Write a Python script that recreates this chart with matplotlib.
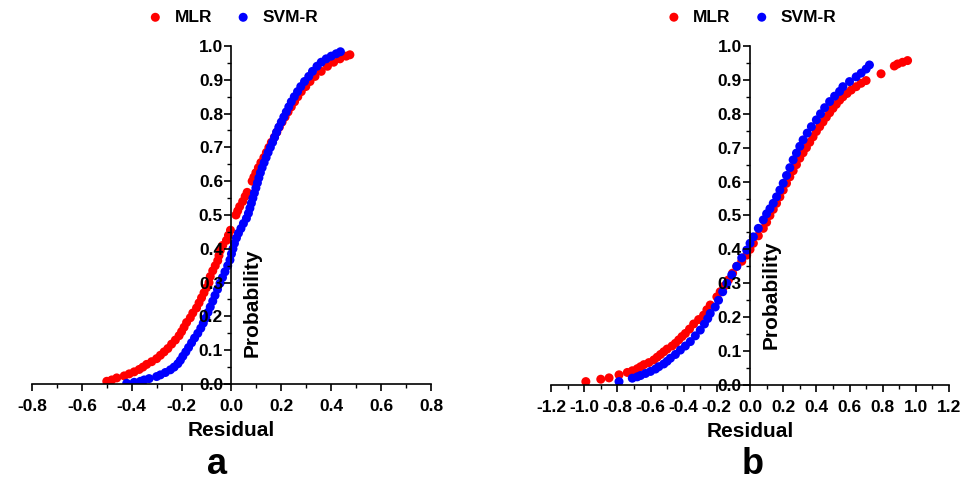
import matplotlib
matplotlib.use("Agg")
import matplotlib.pyplot as plt
from matplotlib.ticker import MultipleLocator

plt.rcParams['font.family'] = ['Liberation Sans', 'DejaVu Sans']
plt.rcParams['font.weight'] = 'bold'

# panel a: residual / cumulative probability
a_mlr_r = [-0.50, -0.48, -0.46, -0.43, -0.41, -0.39, -0.37, -0.355, -0.34, -0.32,
           -0.30, -0.285, -0.27, -0.255, -0.24, -0.225, -0.21, -0.20, -0.19, -0.18,
           -0.165, -0.155, -0.14, -0.13, -0.12, -0.11, -0.10, -0.09, -0.085, -0.075,
           -0.065, -0.055, -0.05, -0.045, -0.035, -0.02, -0.012, -0.004, 0.018, 0.025,
           0.033, 0.045, 0.055, 0.063, 0.083, 0.09, 0.098, 0.108, 0.118, 0.13,
           0.14, 0.15, 0.16, 0.172, 0.182, 0.192, 0.203, 0.215, 0.227, 0.24,
           0.253, 0.266, 0.28, 0.298, 0.315, 0.335, 0.36, 0.385, 0.41, 0.435,
           0.46, 0.475]
a_mlr_p = [0.008, 0.012, 0.018, 0.024, 0.030, 0.036, 0.043, 0.050, 0.058, 0.066,
           0.075, 0.085, 0.095, 0.105, 0.118, 0.130, 0.143, 0.155, 0.168, 0.182,
           0.196, 0.210, 0.225, 0.240, 0.255, 0.270, 0.285, 0.300, 0.318, 0.335,
           0.350, 0.365, 0.380, 0.395, 0.410, 0.425, 0.440, 0.455, 0.500, 0.512,
           0.525, 0.540, 0.555, 0.567, 0.600, 0.612, 0.625, 0.640, 0.655, 0.670,
           0.685, 0.700, 0.715, 0.730, 0.745, 0.760, 0.775, 0.790, 0.805, 0.820,
           0.835, 0.850, 0.865, 0.880, 0.895, 0.910, 0.925, 0.940, 0.952, 0.962,
           0.970, 0.974]

a_svm_r = [-0.42, -0.39, -0.365, -0.35, -0.33, -0.30, -0.285, -0.265, -0.245, -0.23,
           -0.215, -0.205, -0.195, -0.183, -0.172, -0.16, -0.148, -0.135, -0.123, -0.113,
           -0.103, -0.094, -0.085, -0.075, -0.066, -0.056, -0.046, -0.036, -0.026, -0.015,
           -0.006, 0.0, 0.006, 0.012, 0.02, 0.028, 0.038, 0.048, 0.06, 0.068,
           0.074, 0.08, 0.086, 0.092, 0.098, 0.104, 0.11, 0.116, 0.123, 0.131,
           0.139, 0.147, 0.156, 0.165, 0.173, 0.181, 0.19, 0.2, 0.21, 0.22,
           0.23, 0.24, 0.252, 0.265, 0.278, 0.293, 0.31, 0.325, 0.343, 0.36,
           0.38, 0.40, 0.42, 0.437]
a_svm_p = [0.002, 0.005, 0.008, 0.012, 0.016, 0.022, 0.027, 0.034, 0.042, 0.050,
           0.060, 0.070, 0.082, 0.095, 0.108, 0.122, 0.136, 0.150, 0.165, 0.180,
           0.195, 0.212, 0.228, 0.245, 0.262, 0.280, 0.298, 0.315, 0.332, 0.350,
           0.367, 0.385, 0.400, 0.416, 0.432, 0.446, 0.460, 0.475, 0.490, 0.505,
           0.520, 0.535, 0.550, 0.565, 0.580, 0.595, 0.610, 0.625, 0.640, 0.655,
           0.670, 0.685, 0.700, 0.715, 0.730, 0.745, 0.760, 0.775, 0.790, 0.805,
           0.820, 0.835, 0.850, 0.865, 0.880, 0.895, 0.910, 0.925, 0.940, 0.952,
           0.962, 0.970, 0.977, 0.983]

# panel b
b_mlr_r = [-0.99, -0.90, -0.85, -0.79, -0.74, -0.71, -0.68, -0.66, -0.64, -0.61,
           -0.58, -0.56, -0.54, -0.52, -0.50, -0.47, -0.45, -0.43, -0.41, -0.39,
           -0.365, -0.34, -0.31, -0.28, -0.26, -0.24, -0.20, -0.18, -0.155, -0.13,
           -0.105, -0.08, -0.05, -0.02, 0.0, 0.02, 0.05, 0.08, 0.10, 0.12,
           0.14, 0.16, 0.18, 0.20, 0.22, 0.24, 0.26, 0.28, 0.30, 0.32,
           0.34, 0.36, 0.38, 0.40, 0.42, 0.44, 0.46, 0.48, 0.50, 0.52,
           0.54, 0.56, 0.585, 0.61, 0.64, 0.67, 0.70, 0.79, 0.87, 0.89,
           0.92, 0.95]
b_mlr_p = [0.010, 0.017, 0.021, 0.030, 0.037, 0.042, 0.048, 0.054, 0.060, 0.066,
           0.074, 0.082, 0.090, 0.098, 0.106, 0.115, 0.123, 0.133, 0.143, 0.152,
           0.165, 0.180, 0.193, 0.206, 0.222, 0.236, 0.260, 0.275, 0.292, 0.310,
           0.330, 0.350, 0.365, 0.383, 0.400, 0.418, 0.440, 0.462, 0.480, 0.500,
           0.518, 0.536, 0.555, 0.575, 0.595, 0.614, 0.632, 0.650, 0.669, 0.685,
           0.700, 0.716, 0.732, 0.748, 0.762, 0.776, 0.790, 0.803, 0.816, 0.828,
           0.840, 0.850, 0.860, 0.870, 0.880, 0.890, 0.898, 0.918, 0.941, 0.947,
           0.952, 0.957]

b_svm_r = [-0.79, -0.71, -0.68, -0.66, -0.63, -0.60, -0.57, -0.55, -0.52, -0.50,
           -0.48, -0.45, -0.42, -0.39, -0.36, -0.33, -0.30, -0.275, -0.255, -0.24,
           -0.21, -0.19, -0.165, -0.14, -0.11, -0.08, -0.05, -0.02, 0.0, 0.02,
           0.05, 0.08, 0.10, 0.12, 0.14, 0.16, 0.18, 0.20, 0.22, 0.24,
           0.26, 0.28, 0.30, 0.32, 0.345, 0.37, 0.40, 0.425, 0.45, 0.48,
           0.51, 0.54, 0.56, 0.60, 0.64, 0.67, 0.70, 0.72]
b_svm_p = [0.010, 0.020, 0.024, 0.028, 0.034, 0.040, 0.047, 0.054, 0.062, 0.070,
           0.079, 0.090, 0.103, 0.115, 0.128, 0.145, 0.162, 0.180, 0.196, 0.211,
           0.230, 0.250, 0.275, 0.300, 0.325, 0.350, 0.375, 0.398, 0.418, 0.437,
           0.462, 0.487, 0.505, 0.520, 0.536, 0.555, 0.575, 0.595, 0.618, 0.641,
           0.664, 0.684, 0.704, 0.723, 0.743, 0.762, 0.782, 0.800, 0.818, 0.836,
           0.852, 0.866, 0.880, 0.895, 0.909, 0.920, 0.932, 0.944]

fig = plt.figure(figsize=(9.63, 4.93), dpi=100)


def panel(rect, mlr_r, mlr_p, svm_r, svm_p, xlim, label_pos):
    ax = fig.add_axes(rect)
    ax.scatter(mlr_r, mlr_p, s=42, color='#ff0000', edgecolors='none', label='MLR')
    ax.scatter(svm_r, svm_p, s=42, color='#0000ff', edgecolors='none', label='SVM-R')
    ax.set_xlim(xlim)
    ax.set_ylim(0, 1.0)
    ax.spines['left'].set_position(('data', 0))
    ax.spines['top'].set_visible(False)
    ax.spines['right'].set_visible(False)
    for s in ('left', 'bottom'):
        ax.spines[s].set_linewidth(1.2)
    ax.xaxis.set_major_locator(MultipleLocator(0.2))
    ax.xaxis.set_minor_locator(MultipleLocator(0.1))
    ax.yaxis.set_major_locator(MultipleLocator(0.1))
    ax.yaxis.set_minor_locator(MultipleLocator(0.05))
    ax.xaxis.set_major_formatter(plt.FuncFormatter(lambda v, p: '%.1f' % v))
    ax.yaxis.set_major_formatter(plt.FuncFormatter(lambda v, p: '%.1f' % v))
    ax.tick_params(which='major', direction='out', length=5, width=1.2, labelsize=12.5)
    ax.tick_params(which='minor', direction='out', length=3, width=1.0)
    ax.tick_params(axis='x', pad=6)
    ax.tick_params(axis='y', pad=1)
    for t in ax.get_xticklabels() + ax.get_yticklabels():
        t.set_fontweight('bold')
    ax.set_xlabel('Residual', fontsize=15, fontweight='bold', labelpad=5)
    ax.text(label_pos[0], label_pos[1], 'Probability', rotation=90, fontsize=15,
            fontweight='bold', ha='center', va='center')
    ax.legend(loc='center', bbox_to_anchor=(0.5, 1.085), ncol=2, frameon=False,
              fontsize=12.5, handletextpad=0.5, columnspacing=1.2, handlelength=1.2,
              scatterpoints=1)
    return ax


panel([0.0332, 0.2211, 0.4143, 0.6856], a_mlr_r, a_mlr_p, a_svm_r, a_svm_p,
      (-0.8, 0.8), (0.084, 0.24))
panel([0.5722, 0.2191, 0.4133, 0.6876], b_mlr_r, b_mlr_p, b_svm_r, b_svm_p,
      (-1.2, 1.2), (0.13, 0.267))

fig.text(0.225, 0.057, 'a', fontsize=26, fontweight='bold', ha='center', va='center')
fig.text(0.782, 0.057, 'b', fontsize=26, fontweight='bold', ha='center', va='center')

fig.savefig('out.png', dpi=100)
